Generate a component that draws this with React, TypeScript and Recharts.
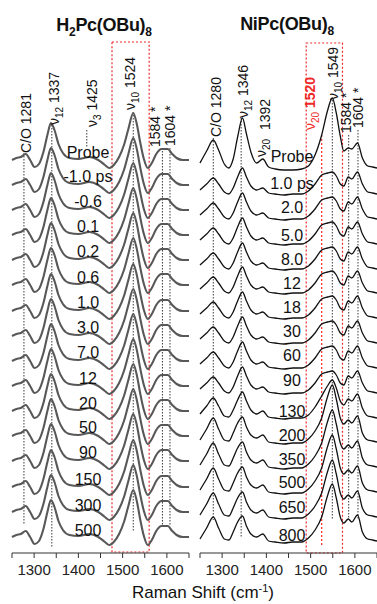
import { LineChart, Line, XAxis, YAxis, ReferenceLine, ReferenceArea } from 'recharts'

const FONT = '"Liberation Sans", Arial, sans-serif'

// x ticks shared by both panels (labels only on the hundreds)
const axisTicks = [1250, 1300, 1350, 1400, 1450, 1500, 1550, 1600, 1650]

// ---- H2Pc(OBu)8 ----
const leftWavenumbers = [1250, 1260, 1270, 1281, 1291, 1301, 1311, 1321, 1330, 1338, 1346, 1355, 1365, 1380, 1400, 1425, 1445, 1460, 1470, 1480, 1492, 1503, 1513, 1524, 1532, 1540, 1548, 1557, 1566, 1576, 1588, 1602, 1612, 1622, 1636, 1650]
const leftProfile = [8, 10, 11, 14, 8, 1, 4, 16, 33, 45, 38, 24, 15, 10, 9, 11, 8, 3, 0, 3, 11, 23, 39, 55, 44, 25, 9, 0, 5, 14, 19, 19, 14, 10, 8, 8]
// vertical offset of each spectrum (stack order top -> bottom)
const leftOffsets = [385, 360, 335, 310, 285, 260, 234, 209, 184, 159, 134, 109, 84, 58, 33, 8]
const leftTimes = ['Probe', '-1.0 ps', '-0.6', '0.1', '0.2', '0.6', '1.0', '3.0', '7.0', '12', '20', '50', '90', '150', '300', '500']
const leftTimeY = [152, 176, 201, 226, 251, 277, 302, 327, 352, 378, 403, 427, 452, 479, 505, 530]

// ---- NiPc(OBu)8 ----
const rightWavenumbers = [1250, 1265, 1280, 1292, 1305, 1315, 1325, 1335, 1346, 1355, 1365, 1378, 1392, 1405, 1420, 1440, 1460, 1480, 1495, 1510, 1525, 1538, 1549, 1558, 1567, 1575, 1585, 1593, 1606, 1617, 1629, 1640, 1650]
const rightProbe = [6, 18, 29, 19, 5, 1, 10, 32, 51, 35, 17, 6, 10, 2, 0, -1, -1, 0, 3, 14, 34, 58, 71, 56, 33, 18, 21, 20, 26, 11, 3, 2, 1]
const rightEarly = [4, 10, 16, 10, 2, 0, 6, 17, 26, 17, 8, 4, 6, 1, 0, -1, 0, 0, 3, 10, 19, 21, 22, 18, 10, 8, 17, 15, 22, 10, 2, 1, 0]
const rightMid = [4, 12, 20, 12, 2, 1, 8, 18, 26, 17, 8, 4, 7, 1, 0, -1, 0, 0, 3, 11, 22, 32, 38, 30, 17, 13, 19, 17, 24, 10, 2, 1, 0]
const rightLate = [3, 14, 25, 14, 3, 2, 10, 20, 26, 16, 8, 5, 8, 1, 0, -1, 0, 0, 4, 12, 25, 46, 58, 44, 25, 19, 23, 20, 27, 10, 3, 2, 1]
const rightShapes = [rightProbe, rightEarly, rightEarly, rightEarly, rightEarly, rightEarly, rightEarly, rightEarly, rightEarly, rightEarly, rightMid, rightLate, rightLate, rightLate, rightLate, rightLate]
const rightOffsets = [384, 359, 334, 309, 284, 260, 235, 210, 185, 160, 135, 110, 85, 60, 35, 11]
const rightTimes = ['Probe', '1.0 ps', '2.0', '5.0', '8.0', '12', '18', '30', '60', '90', '130', '200', '350', '500', '650', '800']
const rightTimeY = [156, 183, 207, 235, 259, 283, 307, 331, 355, 380, 411, 435, 459, 482, 507, 535]

// dotted peak markers [wavenumber, top, bottom]
const leftMarkers = [[1277, 400, 28], [1340, 428, 6], [1419, 423, 405], [1524, 441, 21], [1590, 405, 28], [1607, 405, 28]]
const rightMarkers = [[1280, 415, 33], [1343, 435, 15], [1549, 453, 33], [1586, 418, 33], [1607, 423, 33]]

const PLOT_H = 553

function buildRows(wn: number[], shapes: number[][], offsets: number[]) {
  return wn.map((x, i) => {
    const row: Record<string, number> = { x }
    offsets.forEach((o, k) => {
      row['t' + k] = o + shapes[k][i]
    })
    return row
  })
}

const leftRows = buildRows(leftWavenumbers, leftOffsets.map(() => leftProfile), leftOffsets)
const rightRows = buildRows(rightWavenumbers, rightShapes, rightOffsets)

interface PanelProps {
  rows: Record<string, number>[]
  count: number
  color: string
  strokeWidth: number
  markers: number[][]
  box: [number, number, number, number]
  redLines?: number[][]
  left: number
}

function Panel({ rows, count, color, strokeWidth, markers, box, redLines = [], left }: PanelProps) {
  return (
    <div style={{ position: 'absolute', left, top: 0 }}>
      <LineChart width={190} height={604} data={rows} margin={{ top: 0, right: 1, left: 12, bottom: 0 }}>
        <XAxis
          dataKey="x"
          type="number"
          domain={[1250, 1650]}
          ticks={axisTicks}
          interval={0}
          tickFormatter={(v) => (v % 100 === 0 ? String(v) : '')}
          tick={{ fontSize: 15, fill: '#222', fontFamily: FONT }}
          tickSize={5}
          tickMargin={6}
          stroke="#333"
          height={604 - PLOT_H}
        />
        <YAxis hide type="number" domain={[0, PLOT_H]} allowDataOverflow />
        <ReferenceArea
          x1={box[0]}
          x2={box[1]}
          y1={box[2]}
          y2={box[3]}
          fill="none"
          fillOpacity={0}
          stroke="#f02828"
          strokeWidth={1.2}
          strokeDasharray="2 2"
        />
        {redLines.map(([x, y1, y2]) => (
          <ReferenceLine
            key={'r' + x}
            segment={[{ x, y: y1 }, { x, y: y2 }]}
            stroke="#f02828"
            strokeWidth={1.2}
            strokeDasharray="2 2"
          />
        ))}
        {markers.map(([x, y1, y2]) => (
          <ReferenceLine
            key={'m' + x}
            segment={[{ x, y: y1 }, { x, y: y2 }]}
            stroke="#222"
            strokeWidth={0.9}
            strokeDasharray="1.5 1.5"
          />
        ))}
        {Array.from({ length: count }, (_, k) => (
          <Line
            key={k}
            type="monotone"
            dataKey={'t' + k}
            stroke={color}
            strokeWidth={strokeWidth}
            dot={false}
            isAnimationActive={false}
          />
        ))}
      </LineChart>
    </div>
  )
}

function VText({ x, y, children, fill = '#111', size = 14 }: { x: number; y: number; children: any; fill?: string; size?: number }) {
  return (
    <text transform={`translate(${x},${y}) rotate(-90)`} fontSize={size} fill={fill} fontFamily={FONT}>
      {children}
    </text>
  )
}

function Nu({ sub, rest }: { sub: string; rest?: string }) {
  return (
    <>
      ν<tspan dy={4} fontSize={10}>{sub}</tspan>
      {rest !== undefined && <tspan dy={-4}>{rest}</tspan>}
    </>
  )
}

export default function App() {
  return (
    <div style={{ position: 'absolute', left: 0, top: 0, width: 377, height: 604, background: '#fff', overflow: 'hidden' }}>
      <Panel rows={leftRows} count={leftOffsets.length} color="#585858" strokeWidth={2.1} markers={leftMarkers} box={[1476, 1560, 1, 511]} left={0} />
      <Panel
        rows={rightRows}
        count={rightOffsets.length}
        color="#111"
        strokeWidth={1.3}
        markers={rightMarkers}
        box={[1490, 1572, 0, 510]}
        redLines={[[1525, 418, 6]]}
        left={188}
      />
      <svg width={377} height={604} style={{ position: 'absolute', left: 0, top: 0, pointerEvents: 'none' }}>
        <text x={104} y={31} textAnchor="middle" fontSize={18} fontWeight="bold" fontFamily={FONT} fill="#111" letterSpacing={-0.3}>
          H<tspan dy={5} fontSize={12}>2</tspan>
          <tspan dy={-5}>Pc(OBu)</tspan>
          <tspan dy={5} fontSize={12}>8</tspan>
        </text>
        <text x={287} y={30} textAnchor="middle" fontSize={18} fontWeight="bold" fontFamily={FONT} fill="#111" letterSpacing={-0.3}>
          NiPc(OBu)<tspan dy={5} fontSize={12}>8</tspan>
        </text>

        {/* left peak labels */}
        <VText x={31} y={153}>C/O 1281</VText>
        <VText x={59} y={125}><Nu sub="12" rest=" 1337" /></VText>
        <VText x={97} y={127}><Nu sub="3" rest=" 1425" /></VText>
        <VText x={135} y={110}><Nu sub="10" rest=" 1524" /></VText>
        <VText x={160} y={147}>1584 *</VText>
        <VText x={175} y={146}>1604 *</VText>

        {/* right peak labels */}
        <VText x={221} y={137}>C/O 1280</VText>
        <VText x={248} y={118}><Nu sub="12" rest=" 1346" /></VText>
        <VText x={266} y={157}><Nu sub="20" /></VText>
        <VText x={270} y={130}>1392</VText>
        <VText x={315} y={130} fill="#f02828">
          <Nu sub="20" rest=" " />
          <tspan fontWeight="bold">1520</tspan>
        </VText>
        <VText x={338} y={100}><Nu sub="10" rest=" 1549" /></VText>
        <VText x={351} y={133}>1584 *</VText>
        <VText x={363} y={128}>1604 *</VText>

        {leftTimes.map((t, i) => (
          <text key={'lt' + i} x={88} y={leftTimeY[i] + 6} textAnchor="middle" fontSize={16} fontFamily={FONT} fill="#111">
            {t}
          </text>
        ))}
        {rightTimes.map((t, i) => (
          <text key={'rt' + i} x={292} y={rightTimeY[i] + 6} textAnchor="middle" fontSize={16} fontFamily={FONT} fill="#111">
            {t}
          </text>
        ))}

        <text x={203} y={598} textAnchor="middle" fontSize={17} fontFamily={FONT} fill="#111">
          Raman Shift (cm<tspan dy={-6} fontSize={11}>-1</tspan>
          <tspan dy={6}>)</tspan>
        </text>
      </svg>
    </div>
  )
}
